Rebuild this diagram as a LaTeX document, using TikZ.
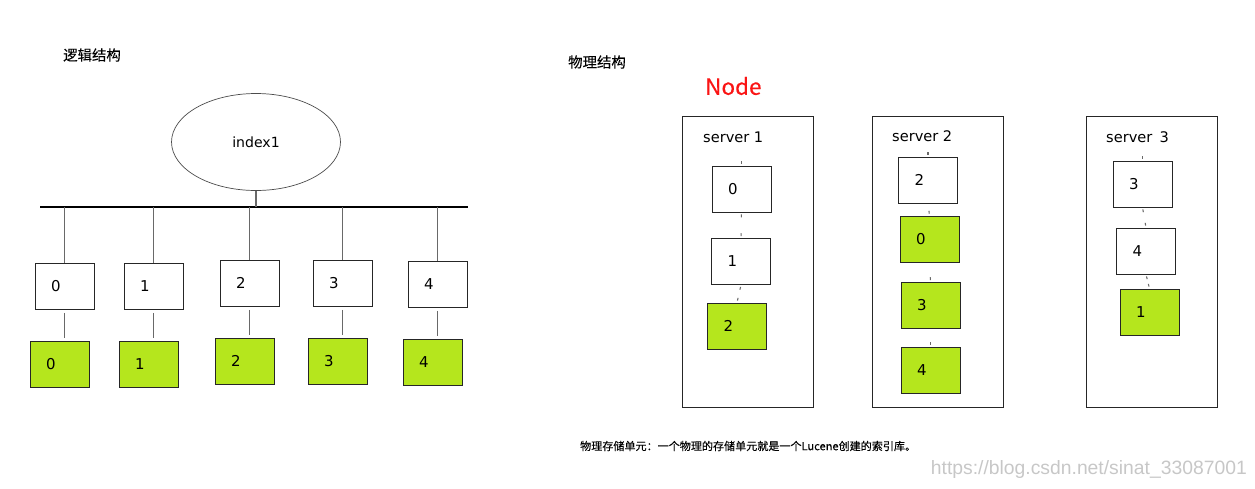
\documentclass[tikz,border=0pt]{standalone}
\usepackage{fontspec}
\setmainfont{DejaVu Sans}
\newfontfamily\cjk{Noto Sans CJK SC}[FakeBold=0.2]
\newfontfamily\wmfont{Liberation Sans}
\usetikzlibrary{positioning,shapes.geometric}
\definecolor{lime}{RGB}{181,230,29}
\definecolor{wire}{RGB}{105,105,105}
\definecolor{nodered}{RGB}{250,20,20}
\tikzset{
  shard/.style={draw=black!85,fill=#1,minimum height=0.92cm,text width=0.54cm,
    inner xsep=0.32cm,align=left,font=\fontsize{8.5}{10}\selectfont},
  shard/.default=white,
  server/.style={draw=black!85,minimum width=2.62cm,minimum height=5.82cm},
  wire/.style={draw=wire,line width=0.9pt},
  link/.style={draw=wire,line width=0.6pt,shorten <=1.2pt,dash pattern=on 1.6pt off 200pt},
  title/.style={font=\cjk\fontsize{8.2}{10}\selectfont,anchor=west},
  srvlab/.style={font=\fontsize{8.3}{10}\selectfont,anchor=west},
}

\begin{document}
\begin{tikzpicture}[x=0.02cm,y=-0.02cm]
  \useasboundingbox (0,0) rectangle (1255,488);

  % logical structure
  \node[title] (logic) at (57,55) {逻辑结构};
  \node[draw=black!70,ellipse,minimum width=3.38cm,minimum height=1.94cm,
    font=\fontsize{8}{10}\selectfont] (idx) at (256,142) {index1};
  \coordinate (busL) at (40,207);
  \coordinate (busR) at (468,207);
  \draw[black,line width=0.6pt] (busL) -- (busR);
  \draw[wire] (idx.south) -- (idx.south |- busL);
  \foreach \n/\x/\y/\ry [count=\i from 0] in {0/64.5/286/364,1/153.5/286/364,2/249.5/283/361,
                                               3/342.5/283/361,4/437.5/284/362}{
    \node[shard] (p\i) at (\x,\y) {\n};
    \node[shard=lime] (r\i) at (\x-5,\ry) {\n};
    \draw[wire] (p\i.north) -- (p\i.north |- busL);
    \draw[wire,shorten <=2pt,shorten >=1.5pt] (p\i.south) -- (r\i.north -| p\i.south);
  }

  % physical structure
  \node[title] (phys) at (562,62) {物理结构};
  \node[font=\cjk\fontsize{12.8}{15}\selectfont,text=nodered,anchor=west] (nodelab) at (699,86) {Node};

  \node[server] (s1) at (747.5,261.5) {};
  \node[server] (s2) at (937.5,261.5) {};
  \node[server] (s3) at (1151.5,262) {};
  \node[srvlab] (s1lab) at (697,137) {server 1};
  \node[srvlab] (s2lab) at (886,136) {server 2};
  \node[srvlab] (s3lab) at (1100,137) {server\enspace3};

  \node[shard] (a0) at (741.5,189) {0};
  \node[shard] (a1) at (741,261.5) {1};
  \node[shard=lime] (a2) at (737,326) {2};

  \node[shard] (b0) at (928,180) {2};
  \node[shard=lime] (b1) at (929.5,239) {0};
  \node[shard=lime] (b2) at (930.5,305.5) {3};
  \node[shard=lime] (b3) at (930.5,370) {4};

  \node[shard] (c0) at (1142.5,184) {3};
  \node[shard] (c1) at (1146,251) {4};
  \node[shard=lime] (c2) at (1149.5,312) {1};

  \draw[link] (a0.north) -- (a0.north |- s1lab.south);
  \draw[link] (b0.north) -- (b0.north |- s2lab.south);
  \draw[link] (c0.north) -- (c0.north |- s3lab.south);
  \foreach \u/\l in {a0/a1,a1/a2,b0/b1,b1/b2,b2/b3,c0/c1,c1/c2}
    \draw[link] (\l.north) -- (\u.south);
  \foreach \u/\l in {a0/a1,a1/a2,c0/c1,c1/c2}
    \draw[link] (\u.south) -- (\l.north);

  \node[anchor=west,font=\cjk\fontsize{6.3}{8}\selectfont] (cap) at (574,446)
    {物理存储单元：一个物理的存储单元就是一个Lucene创建的索引库。};
  \node[anchor=east,font=\wmfont\fontsize{11}{13}\selectfont,text=black!22] (wm) at (1253,469)
    {https://blog.csdn.net/sinat\_33087001};
\end{tikzpicture}
\end{document}
